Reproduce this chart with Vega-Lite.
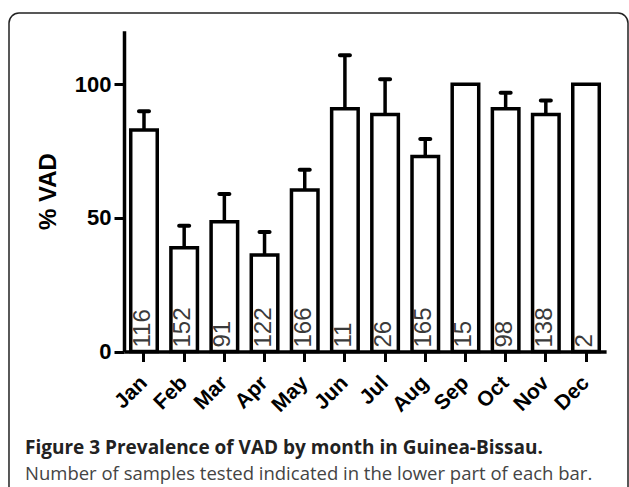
{
  "$schema": "https://vega.github.io/schema/vega-lite/v6.json",
  "width": 619,
  "height": 490,
  "autosize": {"type": "none"},
  "padding": {"left": 9, "top": 13, "right": 1, "bottom": 0},
  "background": "white",
  "title": {
    "text": "Figure 3 Prevalence of VAD by month in Guinea-Bissau.",
    "subtitle": "Number of samples tested indicated in the lower part of each bar.",
    "orient": "bottom",
    "anchor": "start",
    "frame": "group",
    "offset": -64,
    "dx": 16,
    "font": "Open Sans",
    "fontSize": 19,
    "fontWeight": "bold",
    "color": "#222222",
    "subtitleFont": "Open Sans",
    "subtitleFontSize": 18.5,
    "subtitleFontWeight": "normal",
    "subtitleColor": "#444444",
    "subtitlePadding": 7
  },
  "data": {
    "values": [
      {"month": "Jan", "vad": 82.9, "err": 89.9, "n": "116"},
      {"month": "Feb", "vad": 38.8, "err": 47.0, "n": "152"},
      {"month": "Mar", "vad": 48.5, "err": 58.9, "n": "91"},
      {"month": "Apr", "vad": 36.1, "err": 44.7, "n": "122"},
      {"month": "May", "vad": 60.4, "err": 68.0, "n": "166"},
      {"month": "Jun", "vad": 90.8, "err": 110.8, "n": "11"},
      {"month": "Jul", "vad": 88.7, "err": 101.8, "n": "26"},
      {"month": "Aug", "vad": 72.9, "err": 79.5, "n": "165"},
      {"month": "Sep", "vad": 100, "err": null, "n": "15"},
      {"month": "Oct", "vad": 90.8, "err": 96.8, "n": "98"},
      {"month": "Nov", "vad": 88.7, "err": 93.9, "n": "138"},
      {"month": "Dec", "vad": 100, "err": null, "n": "2"}
    ]
  },
  "encoding": {
    "x": {
      "field": "month",
      "type": "nominal",
      "sort": null,
      "scale": {"range": [114.9, 597.1], "paddingInner": 0.34, "paddingOuter": 0.17},
      "axis": {
        "title": null,
        "orient": "bottom",
        "offset": -151.5,
        "labelAngle": -45,
        "labelAlign": "right",
        "labelBaseline": "middle",
        "labelFont": "Liberation Sans",
        "labelFontSize": 21,
        "labelFontWeight": "bold",
        "labelColor": "black",
        "labelPadding": 18,
        "tickSize": 10,
        "tickWidth": 3,
        "tickColor": "black",
        "domainWidth": 3.5,
        "domainColor": "black",
        "grid": false
      }
    }
  },
  "layer": [
    {
      "mark": {"type": "bar", "fill": "white", "stroke": "black", "strokeWidth": 3.5},
      "encoding": {
        "y": {
          "field": "vad",
          "type": "quantitative",
          "scale": {"domain": [0, 120], "range": [338.5, 17.7], "nice": false, "zero": true},
          "axis": {
            "title": "% VAD",
            "orient": "left",
            "offset": -115,
            "values": [0, 50, 100],
            "grid": false,
            "labelFont": "Liberation Sans",
            "labelFontSize": 22,
            "labelFontWeight": "bold",
            "labelColor": "black",
            "labelPadding": 3,
            "tickSize": 10,
            "tickWidth": 3,
            "tickColor": "black",
            "domainWidth": 3.5,
            "domainColor": "black",
            "titleFont": "Liberation Sans",
            "titleFontSize": 24,
            "titleFontWeight": "bold",
            "titleColor": "black",
            "titlePadding": 14
          }
        }
      }
    },
    {
      "transform": [{"filter": "datum.err != null"}],
      "mark": {"type": "rule", "stroke": "black", "strokeWidth": 3.5},
      "encoding": {
        "y": {"field": "vad", "type": "quantitative"},
        "y2": {"field": "err"}
      }
    },
    {
      "transform": [{"filter": "datum.err != null"}],
      "mark": {"type": "tick", "color": "black", "size": 14, "thickness": 4, "cornerRadius": 2, "opacity": 1},
      "encoding": {
        "y": {"field": "err", "type": "quantitative"}
      }
    },
    {
      "mark": {
        "type": "text",
        "angle": 270,
        "align": "left",
        "baseline": "middle",
        "dx": 4,
        "dy": -1,
        "font": "Liberation Sans",
        "fontSize": 24,
        "color": "#3a3a3a"
      },
      "encoding": {
        "y": {"datum": 0, "type": "quantitative"},
        "text": {"field": "n"}
      }
    }
  ],
  "config": {
    "view": {"stroke": "#222222", "strokeWidth": 1.5, "cornerRadius": 10, "fill": "white"}
  }
}
